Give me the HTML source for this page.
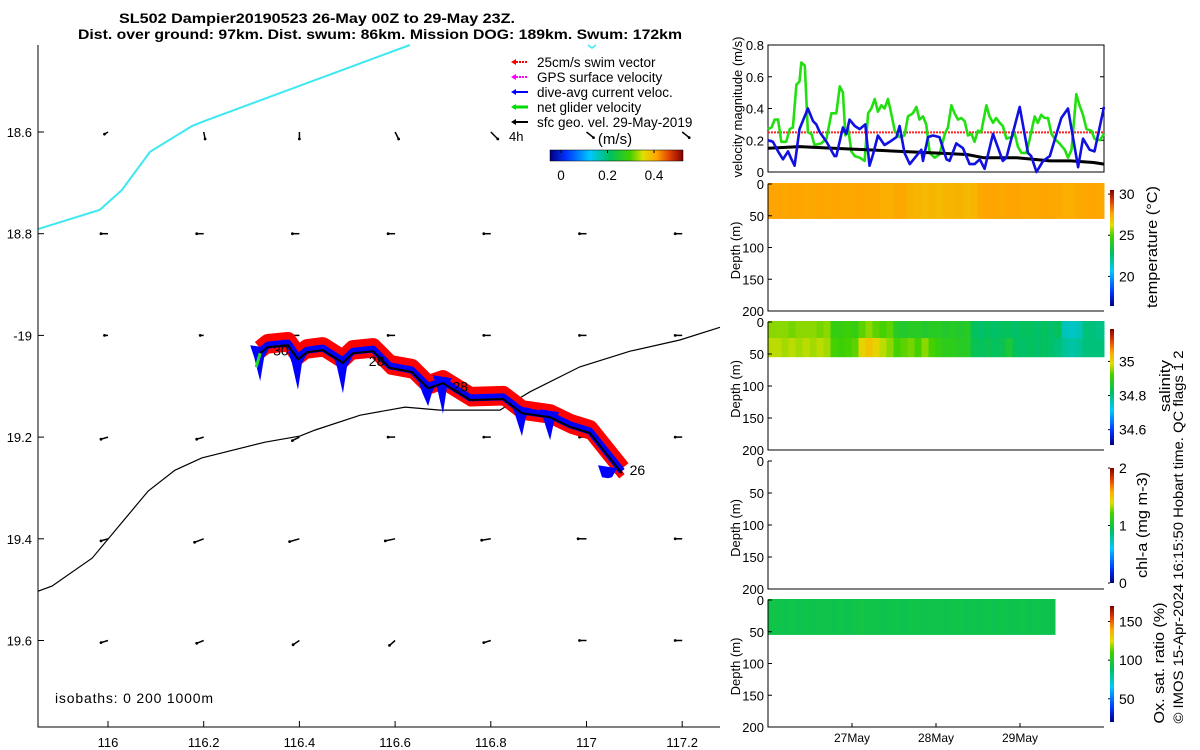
<!DOCTYPE html>
<html><head><meta charset="utf-8"><style>
html,body{margin:0;padding:0;background:#fff}
svg{display:block;font-family:"Liberation Sans",sans-serif}
</style></head><body>
<svg id="fig" width="1200" height="750" viewBox="0 0 1200 750">
<defs>
<linearGradient id="jetH" x1="0" x2="1" y1="0" y2="0">
<stop offset="0" stop-color="#00007f"/><stop offset="0.12" stop-color="#0033ff"/><stop offset="0.3" stop-color="#00c8ff"/><stop offset="0.45" stop-color="#00c060"/><stop offset="0.6" stop-color="#40d000"/><stop offset="0.7" stop-color="#e0e000"/><stop offset="0.8" stop-color="#ffa500"/><stop offset="0.9" stop-color="#e04000"/><stop offset="1" stop-color="#800000"/>
</linearGradient>
<linearGradient id="jetV" x1="0" x2="0" y1="1" y2="0">
<stop offset="0" stop-color="#00007f"/><stop offset="0.12" stop-color="#0033ff"/><stop offset="0.3" stop-color="#00c8ff"/><stop offset="0.45" stop-color="#00c060"/><stop offset="0.6" stop-color="#40d000"/><stop offset="0.7" stop-color="#e0e000"/><stop offset="0.8" stop-color="#ffa500"/><stop offset="0.9" stop-color="#e04000"/><stop offset="1" stop-color="#800000"/>
</linearGradient>
</defs>
<text x="119" y="23" font-size="14" font-weight="bold" textLength="396" lengthAdjust="spacingAndGlyphs">SL502 Dampier20190523 26-May 00Z to 29-May 23Z.</text>
<text x="78" y="39" font-size="14" font-weight="bold" textLength="604" lengthAdjust="spacingAndGlyphs">Dist. over ground: 97km. Dist. swum: 86km. Mission DOG: 189km. Swum: 172km</text>
<g id="map"></g>
<g id="right"></g>
<text transform="translate(1183,537) rotate(-90)" text-anchor="middle" font-size="14" textLength="373" lengthAdjust="spacingAndGlyphs">© IMOS 15-Apr-2024 16:15:50 Hobart time. QC flags 1  2</text>
</svg>
<script>
// ---------- MAP DATA ----------
const trackLon=[116.318,116.334,116.376,116.397,116.416,116.449,116.491,116.512,116.554,116.589,116.635,116.669,116.700,116.757,116.826,116.865,116.924,116.966,117.007,117.074];
const trackLat=[19.035,19.023,19.019,19.047,19.033,19.029,19.054,19.035,19.031,19.064,19.072,19.104,19.094,19.127,19.125,19.153,19.161,19.180,19.192,19.271];
const dipLon=[116.318,116.397,116.491,116.669,116.700,116.865,116.924,117.045];
const dipDepth=[0.055,0.06,0.06,0.035,0.06,0.045,0.045,0.01];
const cyanLon=[115.854,115.983,116.029,116.088,116.176,116.203,116.631];
const cyanLat=[18.791,18.753,18.714,18.639,18.588,18.578,18.429];
const isoLon=[115.854,115.883,115.967,116.084,116.140,116.196,116.328,116.401,116.433,116.527,116.621,116.694,116.819,116.882,116.986,117.091,117.195,117.279];
const isoLat=[19.503,19.493,19.438,19.306,19.265,19.241,19.210,19.198,19.186,19.157,19.141,19.147,19.147,19.111,19.062,19.031,19.009,18.984];
const gridLon=[116.0,116.2,116.4,116.6,116.8,117.0,117.2];
const gridLat=[18.6,18.8,19.0,19.2,19.4,19.6];
const gridU=[[-0.5,0.2,0,0.5,1,1,1],[-1,-1,-1,-1,-1,-1,-1],[-0.5,-0.5,-1,-1,-1,-1,-1],[-1,-1,-1,-1,-1,-1,-1],[-1,-1.3,-1.4,-1.4,-1.3,-1.2,-1],[-1,-1,-0.9,-0.8,-1,-1,-1]];
const gridV=[[0.3,1,1,1,1,0.8,0.8],[0,0,0,0,0,0,0],[0,0,0,0,0,0,0],[0.3,0.3,0.5,0,0,0,0],[0.3,0.5,0.4,0.3,0.2,0,0],[0.3,0.4,0.6,0.7,0.3,0,0]];
const lonTicks=[116,116.2,116.4,116.6,116.8,117,117.2];
const lonLabels=["116","116.2","116.4","116.6","116.8","117","117.2"];
const latTicks=[18.6,18.8,19.0,19.2,19.4,19.6];
const latLabels=["18.6","18.8","-19","19.2","19.4","19.6"];
const dayLabels=["30","28","28","26"];
const dayLon=[116.345,116.545,116.72,117.09];
const dayLat=[19.04,19.06,19.11,19.275];

// ---------- TIME SERIES DATA ----------
const gT=[0,1,1.9,2.9,3.8,5.2,6.2,7.1,8.1,9,9.5,10.5,11.4,12.4,13.3,15.2,16.7,18.1,19.5,20.5,21.4,22.1,22.9,23.8,24.8,26.2,27.6,28.6,29.5,30.5,31.4,32.4,33.3,34.3,35.2,36.2,37.6,39,40,41.4,42.4,43.3,44.3,45.2,46.2,47.6,49,50.5,51.4,52.4,53.3,54.3,55.2,56.2,57.1,58.1,59,60,60.9,62.4,63.3,64.3,65.2,66.2,67.1,68.1,69.5,70.5,71.4,72.4,73.8,74.8,76.2,77.1,78.1,79,80,81,81.9,83.3,84.8,85.7,86.7,88.1,89,90,91,92.4,93.3,94.8,96];
const gV=[.27,.28,.33,.33,.19,.19,.27,.28,.55,.57,.69,.67,.25,.24,.17,.18,.21,.37,.37,.54,.50,.23,.28,.13,.10,.09,.07,.37,.40,.46,.38,.42,.40,.46,.37,.26,.22,.23,.35,.37,.41,.33,.35,.30,.12,.09,.11,.24,.28,.42,.37,.33,.34,.32,.23,.24,.19,.26,.25,.42,.35,.31,.34,.31,.29,.21,.22,.24,.16,.12,.12,.21,.35,.31,.36,.34,.34,.24,.21,.18,.14,.09,.14,.49,.42,.36,.27,.26,.21,.20,.24];
const bT=[0,1.4,2.9,4.3,5.7,6.7,7.6,9,11.4,12.9,13.8,14.8,16.7,19,19.5,21.4,22.4,23.3,24.8,26.2,27.8,29,30,31.4,33.3,34.8,36.7,37.6,39,40.5,43.8,44.3,45.7,47.1,49,51,51.9,53.8,55.7,57.6,59,60.5,61.9,64.3,67.1,68.1,71.9,74.3,75.2,76.7,78.6,80.5,83.8,85.7,88.6,90,91.9,93.3,96];
const bV=[.20,.19,.13,.08,.13,.08,.04,.27,.40,.32,.30,.25,.19,.10,.10,.28,.24,.33,.29,.27,.30,.04,.11,.23,.17,.19,.22,.29,.12,.05,.14,.07,.22,.23,.22,.08,.07,.18,.15,.05,.05,.08,.02,.24,.07,.09,.41,.12,.10,0,.07,.10,.34,.40,.03,.21,.14,.13,.41];
const kT=[0,9,18.6,28.2,37.7,47.2,56.8,61.6,71.1,80.6,86.4,93,96];
const kV=[.15,.16,.15,.14,.13,.12,.11,.09,.09,.07,.07,.06,.05];
const swimSpeed=0.25;
const velTicks=[0,0.2,0.4,0.6,0.8];
const depthTicks=[0,50,100,150,200];
const dayTicks=[24,48,72];
const dayTickLabels=["27May","28May","29May"];
const tempTop=[27.7,27.7,27.6,27.7,27.7,27.6,27.6,27.7,27.6,27.7,27.6,27.6,27.6,27.7,27.6,27.6,27.5,27.5,27.6,27.6,27.4,27.3,27.2,27.3,27.2,27.3,27.3,27.4,27.2,27.3,27.6,27.7,27.7,27.6,27.7,27.7,27.6,27.6,27.6,27.7,27.6,27.6,27.5,27.5,27.6,27.6,27.7,27.6];
const salTop=[34.95,34.95,34.95,34.94,34.95,34.95,34.95,34.94,34.95,34.9,34.9,34.91,34.9,34.93,34.95,34.93,34.92,34.93,34.88,34.87,34.88,34.88,34.87,34.88,34.88,34.87,34.88,34.87,34.88,34.82,34.81,34.82,34.81,34.82,34.82,34.81,34.82,34.82,34.81,34.82,34.81,34.82,34.76,34.75,34.76,34.8,34.8,34.79];
const salBot=[34.97,34.97,34.96,34.97,34.96,34.97,34.96,34.97,34.96,34.92,34.91,34.92,34.93,35.0,35.02,35.0,34.97,34.95,34.92,34.93,34.94,34.92,34.95,34.92,34.9,34.89,34.89,34.88,34.88,34.83,34.82,34.83,34.82,34.83,34.86,34.82,34.81,34.82,34.81,34.82,34.81,34.8,34.78,34.77,34.78,34.8,34.8,34.8];
const oxyProf=[93,93,92,93,92,93,92,93,93,92,93,92,93,94,93,93,92,93,93,92,93,93,92,93,93,92,93,93,92,93,92,93,92,93,92,92,93,92,93,92,92];
const profDepth=55;
const tempRange=[16.4,30.5], salRange=[34.51,35.19], chlRange=[0,2], oxyRange=[20,170];
const tempCbTicks=[20,25,30], salCbTicks=[34.6,34.8,35], chlCbTicks=[0,1,2], oxyCbTicks=[50,100,150];
const salCbLabels=["34.6","34.8","35"];
const speedCbTicks=[0,0.2,0.4];

const NS="http://www.w3.org/2000/svg";
function mk(parent,tag,attrs,txt){const e=document.createElementNS(NS,tag);for(const k in attrs)e.setAttribute(k,attrs[k]);if(txt!==undefined)e.textContent=txt;parent.appendChild(e);return e;}
const jet=[[0,0,0,127],[.12,0,51,255],[.3,0,200,255],[.45,0,192,96],[.6,64,208,0],[.7,224,224,0],[.8,255,165,0],[.9,224,64,0],[1,128,0,0]];
function cmap(f){f=Math.max(0,Math.min(1,f));for(let i=1;i<jet.length;i++){if(f<=jet[i][0]){const a=jet[i-1],b=jet[i],t=(f-a[0])/(b[0]-a[0]);return `rgb(${Math.round(a[1]+t*(b[1]-a[1]))},${Math.round(a[2]+t*(b[2]-a[2]))},${Math.round(a[3]+t*(b[3]-a[3]))})`;}}return "rgb(128,0,0)";}

// ---------- MAP ----------
const map=document.getElementById('map');
const mx=lon=>108+(lon-116)*478.5;
const my=lat=>132+(lat-18.6)*508.5;
function poly(lons,lats){return lons.map((l,i)=>mx(l).toFixed(1)+','+my(lats[i]).toFixed(1)).join(' ');}
let e;
e=mk(map,'polyline',{points:poly(cyanLon,cyanLat),fill:'none',stroke:'#3ee8f0','stroke-width':2});


e=mk(map,'polyline',{points:poly(isoLon,isoLat),fill:'none',stroke:'#000','stroke-width':1.2});


e=mk(map,'path',{d:'M588,45 L592,48 L596,45',fill:'none',stroke:'#3ee8f0','stroke-width':1.5});


gridLat.forEach((la,r)=>gridLon.forEach((lo,c)=>{
  const x=mx(lo),y=my(la),u=gridU[r][c]*7,v=gridV[r][c]*7;
  const a=mk(map,'line',{x1:x,y1:y,x2:x+u,y2:y+v,stroke:'#000','stroke-width':1.5});
  
  
  const d=mk(map,'circle',{cx:x+u,cy:y+v,r:1.4,fill:'#000'});
  
  
}));
const redLat=trackLat.map(l=>l-0.009);
e=mk(map,'polyline',{points:poly(trackLon,redLat),fill:'none',stroke:'#ff0000','stroke-width':17,'stroke-linejoin':'round'});


const redLat2=trackLat.map(l=>l+0.006);
e=mk(map,'polyline',{points:poly(trackLon,redLat2),fill:'none',stroke:'#ff0000','stroke-width':7,'stroke-linejoin':'round'});


const blueLat=trackLat.map(l=>l-0.004);
e=mk(map,'polyline',{points:poly(trackLon,blueLat),fill:'none',stroke:'#0000ff','stroke-width':7,'stroke-linejoin':'round'});


dipLon.forEach((lo,i)=>{
  let j=0,best=9;trackLon.forEach((t,k)=>{if(Math.abs(t-lo)<best){best=Math.abs(t-lo);j=k;}});
  const la=trackLat[j],x=mx(lo),y=my(la);
  const p=mk(map,'polygon',{points:`${x-10},${y-8} ${x+9},${y-5} ${x+4},${y+4} ${x},${my(la+dipDepth[i])} ${x-6},${y+4}`,fill:'#0000ff'});
  
  
});
e=mk(map,'polyline',{points:poly(trackLon,trackLat),fill:'none',stroke:'#000','stroke-width':2,'stroke-linejoin':'round'});


e=mk(map,'line',{x1:mx(trackLon[0]),y1:my(trackLat[0]),x2:mx(trackLon[0])-4,y2:my(trackLat[0])+14,stroke:'#22dd22','stroke-width':3});


dayLabels.forEach((t,i)=>{
  const l=mk(map,'text',{x:mx(dayLon[i]),y:my(dayLat[i]),'font-size':14},t);
  
  
});
e=mk(map,'path',{d:'M38,45 V727 H720',fill:'none',stroke:'#000','stroke-width':1});


lonTicks.forEach((t,i)=>{
  const x=mx(t);
  mk(map,'line',{x1:x,y1:727,x2:x,y2:721,stroke:'#000'});
  const l=mk(map,'text',{x:x,y:747,'font-size':13,'text-anchor':'middle'},lonLabels[i]);
  
  
});
latTicks.forEach((t,i)=>{
  const y=my(t);
  mk(map,'line',{x1:38,y1:y,x2:44,y2:y,stroke:'#000'});
  const l=mk(map,'text',{x:32,y:y+5,'font-size':13,'text-anchor':'end'},latLabels[i]);
  
  
});
e=mk(map,'text',{x:55,y:703,'font-size':14,textLength:158,lengthAdjust:'spacing'},'isobaths: 0   200  1000m');


const legNames=['25cm/s swim vector','GPS surface velocity','dive-avg current veloc.','net glider velocity','sfc geo. vel. 29-May-2019'];
const legCols=['#ff0000','#ff00ff','#0000ff','#00dd00','#000000'];
legNames.forEach((n,i)=>{
  const y=62+i*15;
  const g=mk(map,'g',{});
  
  
  mk(g,'line',{x1:513,y1:y,x2:528,y2:y,stroke:legCols[i],'stroke-width':i==3?3:2,'stroke-dasharray':i<2?'2 1':'none'});
  mk(g,'polygon',{points:`${511},${y} ${516},${y-3} ${516},${y+3}`,fill:legCols[i]});
  mk(g,'text',{x:537,y:y+5,'font-size':13.5},n);
});
e=mk(map,'text',{x:509,y:141,'font-size':13},'4h');


e=mk(map,'text',{x:615,y:144,'font-size':15,'text-anchor':'middle'},'(m/s)');


e=mk(map,'rect',{x:550,y:150,width:133,height:11,fill:'url(#jetH)',stroke:'#000','stroke-width':0.5});


const sbx=v=>561+v*232.5;
speedCbTicks.forEach(t=>{
  mk(map,'line',{x1:sbx(t),y1:150,x2:sbx(t),y2:153,stroke:'#000'});
  const l=mk(map,'text',{x:sbx(t),y:180,'font-size':13.5,'text-anchor':'middle'},String(t));
  
  
});

// ---------- RIGHT PANELS ----------
const R=document.getElementById('right');
const X0=768,X1=1104;
const tx=h=>X0+h/96*(X1-X0);
const vy=v=>172-v*158.75;
e=mk(R,'rect',{x:X0,y:45,width:X1-X0,height:127,fill:'none',stroke:'#000'});


velTicks.forEach(t=>{
  mk(R,'line',{x1:X0,y1:vy(t),x2:X0+4,y2:vy(t),stroke:'#000'});
  mk(R,'line',{x1:X1,y1:vy(t),x2:X1-4,y2:vy(t),stroke:'#000'});
  const l=mk(R,'text',{x:X0-4,y:vy(t)+5,'font-size':13,'text-anchor':'end'},String(t));
  
  
});
e=mk(R,'text',{transform:`translate(742,107) rotate(-90)`,'font-size':13,'text-anchor':'middle'},'velocity magnitude (m/s)');


e=mk(R,'line',{x1:X0,y1:vy(swimSpeed),x2:X1,y2:vy(swimSpeed),stroke:'#ff2020','stroke-width':2,'stroke-dasharray':'2 1'});


function series(T,V,col,w){
  return mk(R,'polyline',{points:T.map((t,i)=>tx(t).toFixed(1)+','+vy(V[i]).toFixed(1)).join(' '),fill:'none',stroke:col,'stroke-width':w,'stroke-linejoin':'round'});
}
e=series(gT,gV,'#22e010',2.6);


e=series(kT,kV,'#000',3);


e=series(bT,bV,'#1010e0',2.6);



const panels=[
 {top:184,bot:311,cb:[190,306],range:tempRange,ticks:tempCbTicks,labels:tempCbTicks.map(String),title:'temperature (°C)',name:'temperature',tX:1157,tY:247,tL:122},
 {top:322,bot:450,cb:[329,445],range:salRange,ticks:salCbTicks,labels:salCbLabels,title:'salinity',name:'salinity',tX:1170,tY:386,tL:52},
 {top:461,bot:589,cb:[468,583],range:chlRange,ticks:chlCbTicks,labels:chlCbTicks.map(String),title:'chl-a (mg m-3)',name:'chlorophyll',tX:1147,tY:525,tL:106},
 {top:600,bot:727,cb:[606,722],range:oxyRange,ticks:oxyCbTicks,labels:oxyCbTicks.map(String),title:'Ox. sat. ratio (%)',name:'oxygen',tX:1164,tY:663,tL:121}
];
panels.forEach((p,pi)=>{
  const dy=d=>p.top+d/200*(p.bot-p.top);
  const g=mk(R,'g',{});
  
  
  const f=v=>(v-p.range[0])/(p.range[1]-p.range[0]);
  const w=(X1-X0)/48;
  if(pi===0){tempTop.forEach((v,i)=>{const c=mk(g,'rect',{x:tx(i*2)-0.5,y:dy(0)-1,width:w+1,height:dy(profDepth)-dy(0)+1,fill:cmap(f(v))});});}
  if(pi===1){salTop.forEach((v,i)=>{const c=mk(g,'rect',{x:tx(i*2)-0.5,y:dy(0)-1,width:w+1,height:dy(25)-dy(0)+1,fill:cmap(f(v))});
    const c2=mk(g,'rect',{x:tx(i*2)-0.5,y:dy(25),width:w+1,height:dy(profDepth)-dy(25),fill:cmap(f(salBot[i]))});});}
  if(pi===3){oxyProf.forEach((v,i)=>{const c=mk(g,'rect',{x:tx(i*2)-0.5,y:dy(0)-1,width:w+1,height:dy(profDepth)-dy(0)+1,fill:cmap(f(v))});});}
  const ax=mk(R,'path',{d:`M${X0},${p.top} V${p.bot} H${X1}`,fill:'none',stroke:'#000'});
  
  
  depthTicks.forEach(t=>{
    mk(R,'line',{x1:X0,y1:dy(t),x2:X0+4,y2:dy(t),stroke:'#000'});
    const l=mk(R,'text',{x:X0-4,y:dy(t)+5,'font-size':13,'text-anchor':'end'},String(t));
    
    
  });
  const yl=mk(R,'text',{transform:`translate(740,${(p.top+p.bot)/2+3}) rotate(-90)`,'font-size':13,'text-anchor':'middle'},'Depth (m)');
  
  
  const cb=mk(R,'rect',{x:1110,y:p.cb[0],width:4,height:p.cb[1]-p.cb[0],fill:'url(#jetV)'});
  
  
  const cy=v=>p.cb[1]-(v-p.range[0])/(p.range[1]-p.range[0])*(p.cb[1]-p.cb[0]);
  p.ticks.forEach((t,i)=>{
    mk(R,'line',{x1:1108,y1:cy(t),x2:1110,y2:cy(t),stroke:'#000'});
    const l=mk(R,'text',{x:1119,y:cy(t)+5,'font-size':14},p.labels[i]);
    
    
  });
  const tt=mk(R,'text',{transform:`translate(${p.tX},${p.tY}) rotate(-90)`,'font-size':15,'text-anchor':'middle',textLength:p.tL,lengthAdjust:'spacingAndGlyphs'},p.title);
  
  
});
dayTicks.forEach((h,i)=>{
  mk(R,'line',{x1:tx(h),y1:727,x2:tx(h),y2:723,stroke:'#000'});
  const l=mk(R,'text',{x:tx(h),y:742,'font-size':12,'text-anchor':'middle'},dayTickLabels[i]);
  
  
});
</script>
</body></html>
